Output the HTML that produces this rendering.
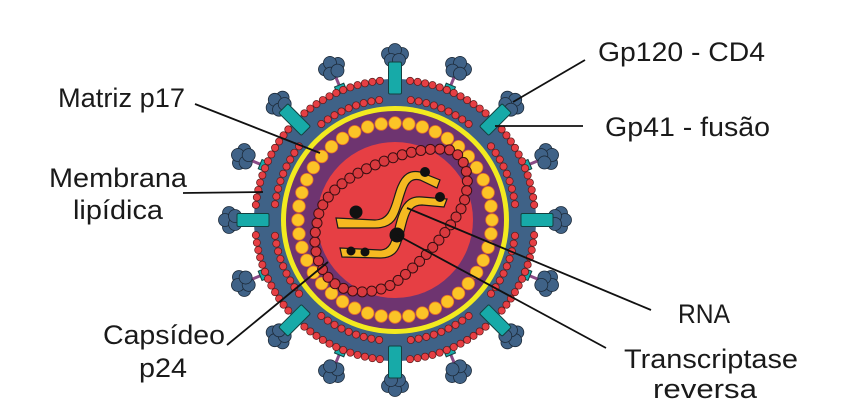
<!DOCTYPE html>
<html><head><meta charset="utf-8"><style>
html,body{margin:0;padding:0;background:#fff;}
svg{display:block}
text{font-family:"Liberation Sans",sans-serif;font-size:27px;fill:#1a1a1a}
</style></head><body>
<svg id="s" width="856" height="418" viewBox="0 0 856 418" xmlns="http://www.w3.org/2000/svg">
<g id="spikes"></g>
<circle cx="395" cy="220" r="141" fill="#3f6287"/>
<g id="teal"></g>
<g id="outerdots"></g>
<g id="innerdots"></g>
<circle cx="395" cy="220" r="114" fill="#f2ea1f"/>
<circle cx="395" cy="220" r="109" fill="#6e3470"/>
<circle cx="395" cy="220" r="78" fill="#e63f44"/>
<g id="ydots"></g>
<path id="loop" fill="none" stroke="none" d="M317,223 C318,203 338,182 368,168 C395,156 422,146 450,150 C472,158 472,196 456,217 C442,238 422,262 396,282 C375,296 342,296 327,276 C314,260 313,238 317,223 Z"/>
<g id="loopdots"></g>
<path d="M336,218 L375,220 C392,220 392,200 398,186 C403,174 410,170 420,172 L440,180 L437,188 L420,180 C412,178 408,182 405,192 C398,212 398,228 375,228 L338,228 Z" fill="#f5b921" stroke="#1a1a1a" stroke-width="1.2"/>
<path d="M340,248 L380,250 C395,250 392,230 400,212 C405,200 412,196 422,197 L447,199 L444,207 L422,205 C413,205 410,210 407,220 C400,245 400,258 380,258 L342,257 Z" fill="#f5b921" stroke="#1a1a1a" stroke-width="1.2"/>
<g fill="#111">
<circle cx="356" cy="212" r="6.5"/><circle cx="397" cy="235" r="7.5"/>
<circle cx="425" cy="172" r="5"/><circle cx="440" cy="197" r="5"/>
<circle cx="351" cy="251" r="4.5"/><circle cx="365" cy="252" r="4.5"/>
</g>
<g stroke="#111" stroke-width="1.8">
<line x1="195" y1="104" x2="320" y2="153"/>
<line x1="183" y1="193" x2="263" y2="192"/>
<line x1="227" y1="345" x2="328" y2="262"/>
<line x1="585" y1="60" x2="513" y2="102"/>
<line x1="583" y1="126" x2="495" y2="126"/>
<line x1="407" y1="208" x2="651" y2="310"/>
<line x1="397" y1="235" x2="606" y2="348"/>
</g>
<text x="598" y="61" textLength="167" lengthAdjust="spacingAndGlyphs">Gp120 - CD4</text>
<text x="605" y="136" textLength="165" lengthAdjust="spacingAndGlyphs">Gp41 - fusão</text>
<text x="58" y="107" textLength="127" lengthAdjust="spacingAndGlyphs">Matriz p17</text>
<text x="49" y="187" textLength="138" lengthAdjust="spacingAndGlyphs">Membrana</text>
<text x="73" y="219" textLength="90" lengthAdjust="spacingAndGlyphs">lipídica</text>
<text x="103" y="344" textLength="122" lengthAdjust="spacingAndGlyphs">Capsídeo</text>
<text x="139" y="377" textLength="48" lengthAdjust="spacingAndGlyphs">p24</text>
<text x="678" y="323" textLength="52" lengthAdjust="spacingAndGlyphs">RNA</text>
<text x="624" y="368" textLength="174" lengthAdjust="spacingAndGlyphs">Transcriptase</text>
<text x="653" y="398" textLength="104" lengthAdjust="spacingAndGlyphs">reversa</text>
</svg>
<script>
var NS="http://www.w3.org/2000/svg",cx=395,cy=220;
function el(p,t,a){var e=document.createElementNS(NS,t);for(var k in a)e.setAttribute(k,a[k]);document.getElementById(p).appendChild(e);return e;}
for(var i=0;i<16;i++){
 var a=i*Math.PI/8-Math.PI/2,c=Math.cos(a),s=Math.sin(a),deg=i*22.5;
 el("spikes","line",{x1:cx+c*135,y1:cy+s*135,x2:cx+c*160,y2:cy+s*160,stroke:"#8a4a86","stroke-width":3});
 var kx=cx+c*165,ky=cy+s*165;
 var g=el("spikes","g",{transform:"translate("+kx+","+ky+") rotate("+deg+")"});
 [[-7,-1],[7,-1],[0,-5],[-4,5],[4,5]].forEach(function(p){var e=document.createElementNS(NS,"circle");e.setAttribute("cx",p[0]);e.setAttribute("cy",p[1]);e.setAttribute("r",6.5);e.setAttribute("fill","#3f6287");e.setAttribute("stroke","#1d2b3a");e.setAttribute("stroke-width","0.8");g.appendChild(e);});
 if(i%2==0){el("teal","rect",{x:-6.5,y:-158,width:13,height:32,rx:1.5,fill:"#17aaa8",stroke:"#14403f","stroke-width":1,transform:"translate("+cx+","+cy+") rotate("+deg+")"});}
 else{el("teal","rect",{x:-5,y:-146,width:10,height:8,fill:"#17aaa8",stroke:"#14403f","stroke-width":1,transform:"translate("+cx+","+cy+") rotate("+deg+")"});}
}
function ring(id,r,n,rad,fill,stroke,sw){for(var i=0;i<n;i++){var a=i*2*Math.PI/n;var x=cx+Math.cos(a)*r,y=cy+Math.sin(a)*r;
 var skip=false;if(id!="ydots"){for(var k=0;k<8;k++){var b=k*Math.PI/4;var d=Math.abs(Math.atan2(Math.sin(a-b),Math.cos(a-b)));if(d*r<8)skip=true;}}
 if(!skip)el(id,"circle",{cx:x,cy:y,r:rad,fill:fill,stroke:stroke,"stroke-width":sw});}}
ring("outerdots",140,116,3.6,"#e63f44","#5a1a1a",0.7);
ring("innerdots",121,96,3.6,"#e63f44","#5a1a1a",0.7);
ring("ydots",97,44,6.3,"#fbc427","#e8702a",0.8);
var p=document.getElementById("loop"),L=p.getTotalLength(),n=Math.round(L/9.5);
for(var i=0;i<n;i++){var pt=p.getPointAtLength(i*L/n);el("loopdots","circle",{cx:pt.x,cy:pt.y,r:5,fill:"#d8393e",stroke:"#3a0f12","stroke-width":1});}
</script>
</body></html>
